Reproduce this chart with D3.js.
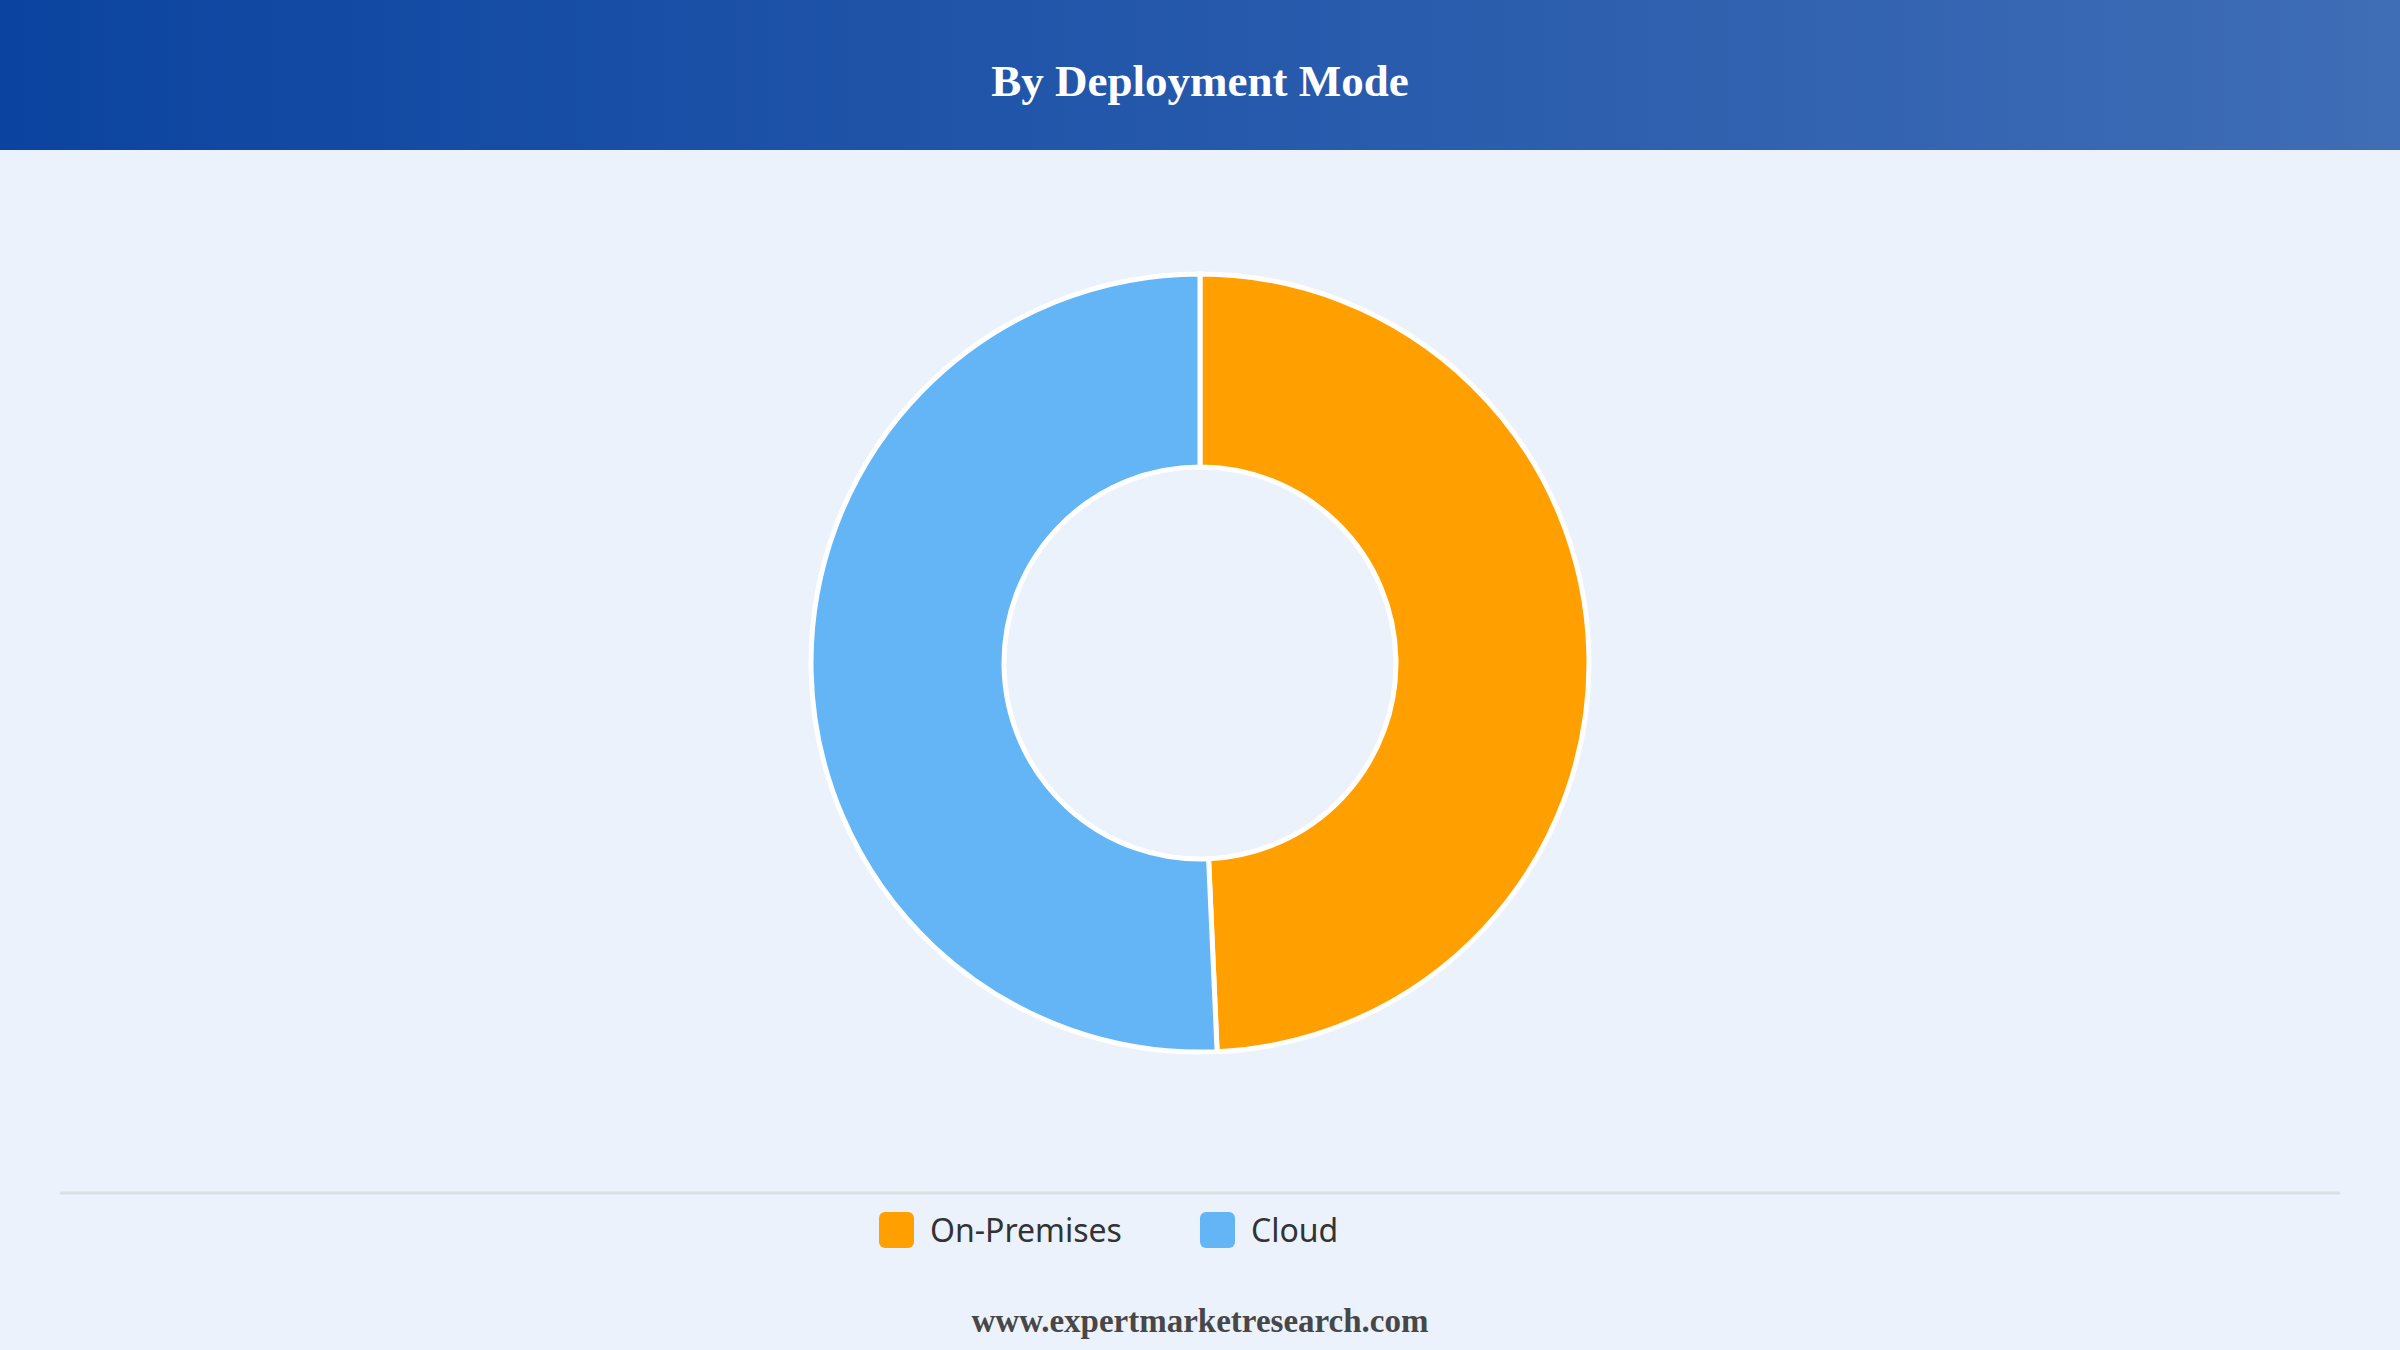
<!DOCTYPE html>
<html>
<head>
<meta charset="utf-8">
<script src="https://cdn.jsdelivr.net/npm/d3@7"></script>
<style>
  html, body { margin: 0; padding: 0; background: #ebf2fb; }
  #chart { width: 2400px; height: 1350px; }
</style>
</head>
<body>
<div id="chart"></div>
<script>
// Data
const categories = ["On-Premises", "Cloud"];
const shares = [49.3, 50.7];
const colours = ["#ffa000", "#64b5f6"];
const title = "By Deployment Mode";
const source = "www.expertmarketresearch.com";

function donut_deployment() {
  const width = 2400,
    height = 1350;

  const svg = d3
    .select("#chart")
    .append("svg")
    .attr("width", width)
    .attr("height", height)
    .attr("viewBox", `0 0 ${width} ${height}`);

  // Background
  svg.append("rect").attr("width", width).attr("height", height).attr("fill", "#ebf2fb");

  // Header band with a left-to-right gradient
  const grad = svg
    .append("defs")
    .append("linearGradient")
    .attr("id", "headerGrad")
    .attr("x1", "0%")
    .attr("x2", "100%");
  grad.append("stop").attr("offset", "0%").attr("stop-color", "#0b44a0");
  grad.append("stop").attr("offset", "100%").attr("stop-color", "#3f6db6");

  svg.append("rect").attr("width", width).attr("height", 150).attr("fill", "url(#headerGrad)");

  svg
    .append("text")
    .attr("x", width / 2)
    .attr("y", 96)
    .attr("text-anchor", "middle")
    .style("font-family", "'Liberation Serif', 'Times New Roman', serif")
    .style("font-weight", "bold")
    .style("font-size", "45px")
    .attr("fill", "#ffffff")
    .text(title);

  // Donut
  const data = categories.map((c, i) => ({ name: c, value: shares[i], colour: colours[i] }));
  const pie = d3.pie().sort(null).value((d) => d.value);
  const arc = d3.arc().innerRadius(196).outerRadius(389);

  const g = svg.append("g").attr("transform", "translate(1200,663)");
  g.selectAll("path")
    .data(pie(data))
    .enter()
    .append("path")
    .attr("d", arc)
    .attr("fill", (d) => d.data.colour)
    .attr("stroke", "#ffffff")
    .attr("stroke-width", 5);

  // Separator above the legend
  svg
    .append("line")
    .attr("x1", 60)
    .attr("x2", 2340)
    .attr("y1", 1193)
    .attr("y2", 1193)
    .attr("stroke", "#dcdfe4")
    .attr("stroke-width", 3);

  // Legend
  const legendX = d3.scaleOrdinal().domain(categories).range([879, 1200]);
  const legend = svg
    .selectAll(".legend")
    .data(data)
    .enter()
    .append("g")
    .attr("class", "legend")
    .attr("transform", (d) => `translate(${legendX(d.name)},1212)`);

  legend
    .append("rect")
    .attr("width", 35)
    .attr("height", 36)
    .attr("rx", 6)
    .attr("fill", (d) => d.colour);

  legend
    .append("text")
    .attr("x", 51)
    .attr("y", 30)
    .style("font-family", "'Noto Sans', 'Open Sans', sans-serif")
    .style("font-size", "32px")
    .attr("fill", "#333333")
    .text((d) => d.name);

  // Source line
  svg
    .append("text")
    .attr("x", width / 2)
    .attr("y", 1332)
    .attr("text-anchor", "middle")
    .style("font-family", "'Liberation Serif', 'Times New Roman', serif")
    .style("font-weight", "bold")
    .style("font-size", "33px")
    .attr("fill", "#474747")
    .text(source);
}

donut_deployment();
</script>
</body>
</html>
